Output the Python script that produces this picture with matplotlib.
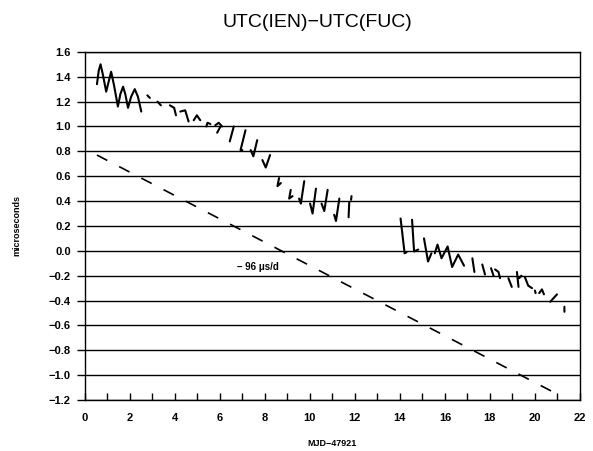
import matplotlib
matplotlib.use("Agg")
import matplotlib.pyplot as plt
import numpy as np

nan = np.nan

# digitised UTC(IEN)-UTC(FUC) record, NaN separates the drawn pieces
mjd = [0.54, 0.62, 0.70, 0.80, 0.95, 1.06, 1.17, 1.30, 1.47, 1.58, 1.70,
       1.80, 1.92, 2.06, 2.22, 2.36, 2.51, nan,
       2.78, 2.89, nan,
       3.23, 3.38, nan,
       3.78, 3.97, 4.05, nan,
       4.24, 4.46, 4.61, nan,
       4.84, 4.98, 5.13, nan,
       5.40, 5.45, 5.58, nan,
       5.80, 5.95, 6.10, nan,
       5.88, 6.03, nan,
       6.62, 6.44, nan,
       7.14, 6.92, 7.00, nan,
       7.37, 7.49, 7.66, nan,
       7.89, 8.04, 8.23, nan,
       8.63, 8.56, 8.71, nan,
       9.15, 9.08, 9.23, nan,
       9.75, 9.60, 9.52, nan,
       10.27, 10.12, 10.01, nan,
       10.79, 10.64, 10.52, nan,
       11.31, 11.16, 11.08, nan,
       11.72, 11.75, nan,
       11.83, 11.85, nan,
       14.03, 14.21, 14.30, nan,
       14.54, 14.63, 14.81, nan,
       15.07, 15.25, 15.40, nan,
       15.55, 15.67, 15.85, 16.12, 16.32, 16.59, 16.85, nan,
       17.22, 17.31, nan,
       17.66, 17.78, nan,
       18.05, 18.16, nan,
       18.23, 18.38, 18.45, nan,
       18.82, 18.97, nan,
       19.20, 19.27, nan,
       19.30, 19.40, nan,
       19.55, 19.70, 19.87, nan,
       20.00, 20.03, nan,
       20.19, 20.31, 20.40, nan,
       20.68, 20.98, nan,
       21.31, 21.31]
offset = [1.34, 1.45, 1.50, 1.42, 1.28, 1.36, 1.44, 1.33, 1.16, 1.26, 1.32,
          1.26, 1.15, 1.24, 1.30, 1.24, 1.12, nan,
          1.25, 1.23, nan,
          1.20, 1.17, nan,
          1.17, 1.15, 1.09, nan,
          1.12, 1.13, 1.04, nan,
          1.05, 1.09, 1.05, nan,
          1.00, 1.03, 1.02, nan,
          1.01, 1.03, 1.00, nan,
          0.95, 1.00, nan,
          1.00, 0.88, nan,
          0.97, 0.81, 0.81, nan,
          0.81, 0.76, 0.89, nan,
          0.73, 0.67, 0.77, nan,
          0.585, 0.52, 0.545, nan,
          0.49, 0.42, 0.44, nan,
          0.56, 0.38, 0.42, nan,
          0.50, 0.30, 0.38, nan,
          0.49, 0.32, 0.38, nan,
          0.42, 0.24, 0.29, nan,
          0.27, 0.39, nan,
          0.41, 0.44, nan,
          0.26, -0.02, -0.01, nan,
          0.25, -0.005, 0.01, nan,
          0.10, -0.086, -0.02, nan,
          -0.02, 0.05, -0.06, 0.035, -0.13, -0.03, -0.12, nan,
          -0.06, -0.17, nan,
          -0.11, -0.19, nan,
          -0.14, -0.20, nan,
          -0.15, -0.17, -0.22, nan,
          -0.22, -0.29, nan,
          -0.17, -0.29, nan,
          -0.22, -0.20, nan,
          -0.21, -0.28, -0.30, nan,
          -0.32, -0.34, nan,
          -0.34, -0.31, -0.35, nan,
          -0.41, -0.35, nan,
          -0.45, -0.49]

# linear drift line
trend_x = [0.54, 21.07]
trend_y = [0.77, -1.16]
trend_label = "– 96 μs/d"

yticks = [1.6, 1.4, 1.2, 1.0, 0.8, 0.6, 0.4, 0.2, 0.0,
          -0.2, -0.4, -0.6, -0.8, -1.0, -1.2]
xticks = list(range(0, 23, 2))

plt.rcParams["font.family"] = ["Liberation Sans", "DejaVu Sans"]

fig = plt.figure(figsize=(5.93, 4.51), dpi=100)
ax = fig.add_axes([0.143, 0.113, 0.835, 0.772])

for y in yticks:
    ax.axhline(y, color="black", linewidth=1.0, zorder=1)

ax.plot(mjd, offset, color="black", linewidth=1.5, zorder=3,
        solid_joinstyle="round", solid_capstyle="round")
ax.plot(trend_x, trend_y, color="black", linewidth=1.2,
        linestyle=(0, (7, 8)), zorder=3)
ax.text(6.75, -0.13, trend_label, fontsize=7, fontweight="bold",
        ha="left", va="center", zorder=4)

ax.set_xlim(0, 22)
ax.set_ylim(-1.2, 1.6)
ax.set_xticks(xticks)
ax.set_xticks(range(0, 23), minor=True)
ax.set_yticks(yticks)
ax.set_yticklabels([f"{v:.1f}".replace("-", "−") for v in yticks])
ax.tick_params(axis="x", which="both", direction="in", length=5,
               width=1.0, labelsize=8, pad=9)
ax.tick_params(axis="y", direction="out", length=6, width=1.0,
               labelsize=8, pad=4)
for lab in ax.get_xticklabels() + ax.get_yticklabels():
    lab.set_fontweight("bold")
for spine in ax.spines.values():
    spine.set_linewidth(1.0)

ax.set_xlabel("MJD−47921", fontsize=6.5, fontweight="bold", labelpad=12)
ax.set_ylabel("microseconds", fontsize=6.5, fontweight="bold", labelpad=20)

fig.text(0.535, 0.951, "UTC(IEN)−UTC(FUC)", fontsize=14,
         ha="center", va="center")

fig.savefig("out.png", dpi=100, facecolor="white")
